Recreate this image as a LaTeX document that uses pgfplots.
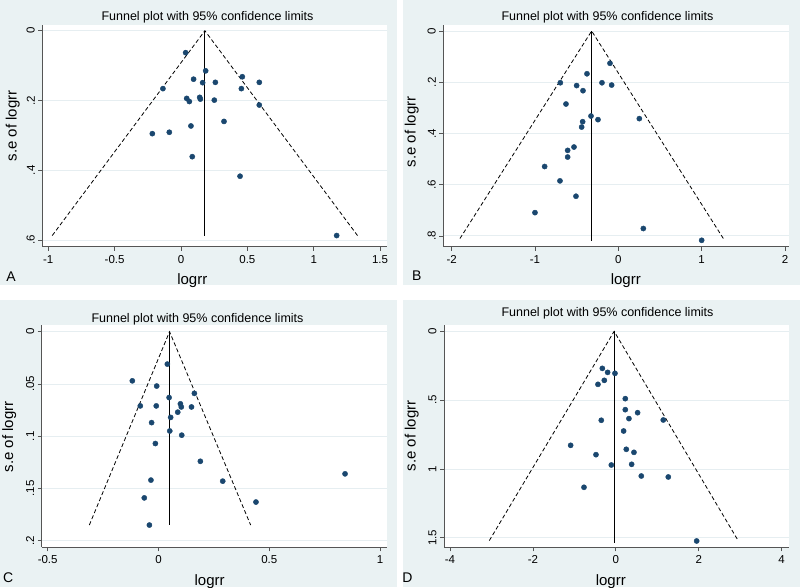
\documentclass[border=0pt]{standalone}
\usepackage{fontspec}
\setmainfont{Liberation Sans}
\usepackage{pgfplots}
\pgfplotsset{compat=1.18}
\definecolor{bgc}{HTML}{EAF2F3}
\definecolor{gridc}{HTML}{E6EEF1}
\definecolor{dotc}{HTML}{1A476F}
\definecolor{axc}{HTML}{555555}

\pgfplotsset{funnel/.style={
  scale only axis,
  anchor=south west,
  y dir=reverse,
  axis x line*=bottom, axis y line*=left,
  axis line style={line width=0.7pt, axc},
  tick align=outside,
  major tick length=4pt,
  every tick/.style={axc, line width=0.7pt},
  ymajorgrids,
  grid style={gridc, line width=0.9pt},
  axis background/.style={fill=white},
  xticklabel style={font=\fontsize{11.5}{13}\selectfont, anchor=north, yshift=-1pt},
  yticklabel style={font=\fontsize{11.5}{13}\selectfont, rotate=90, anchor=south},
  label style={font=\fontsize{15}{17}\selectfont},
  xlabel={logrr}, ylabel={s.e of logrr},
  clip=false,
},
dots/.style={only marks, mark=*, mark size=2.6pt, mark options={fill=dotc, draw=dotc}},
dashl/.style={no marks, black, line width=0.8pt, dash pattern=on 4pt off 2.5pt},
vline/.style={no marks, black, line width=0.8pt},
}

\begin{document}
\begin{tikzpicture}
\path[use as bounding box, fill=white] (0pt,-587pt) rectangle (800pt,0pt);
\fill[bgc] (0pt,0pt) rectangle (397pt,-285pt);
\fill[bgc] (403pt,0pt) rectangle (800pt,-285pt);
\fill[bgc] (0pt,-300pt) rectangle (397pt,-587pt);
\fill[bgc] (403pt,-300pt) rectangle (800pt,-587pt);

% Panel A
\begin{axis}[funnel,
  at={(42.3pt,-246.7pt)}, width=344.4pt, height=221.7pt,
  xmin=-1.045, xmax=1.550, ymin=-0.0163, ymax=0.619,
  xtick={-1,-0.5,0,0.5,1,1.5}, xticklabels={-1,-0.5,0,0.5,1,1.5},
  ytick={0,0.2,0.4,0.6}, yticklabels={0,.2,.4,.6},
  xlabel style={at={(axis cs:0.085,0.619)}, anchor=center, yshift=-34pt},
  ylabel style={at={(axis cs:-1.268,0.273)}, anchor=center},
]
\addplot[dashl] coordinates {(-0.97,0.587) (0.18,0) (1.33,0.587)};
\addplot[vline] coordinates {(0.18,0) (0.18,0.587)};
\addplot[dots] coordinates {
(0.035,0.063) (0.186,0.115) (0.095,0.139) (0.163,0.149) (0.259,0.148)
(0.462,0.132) (0.590,0.148) (-0.136,0.166) (0.455,0.166) (0.043,0.194)
(0.063,0.203) (0.141,0.191) (0.146,0.196) (0.251,0.199) (0.590,0.213)
(0.324,0.260) (0.075,0.273) (-0.216,0.295) (-0.088,0.291) (0.085,0.361)
(0.445,0.417) (1.173,0.587)};
\end{axis}

% Panel B
\begin{axis}[funnel,
  at={(443.3pt,-246.7pt)}, width=345.7pt, height=221.7pt,
  xmin=-2.1, xmax=2.048, ymin=-0.0234, ymax=0.842,
  xtick={-2,-1,0,1,2}, xticklabels={-2,-1,0,1,2},
  ytick={0,0.2,0.4,0.6,0.8}, yticklabels={0,.2,.4,.6,.8},
  xlabel style={at={(axis cs:0.09,0.842)}, anchor=center, yshift=-34pt},
  ylabel style={at={(axis cs:-2.479,0.394)}, anchor=center},
]
\addplot[dashl] coordinates {(-1.9,0.81) (-0.32,0) (1.26,0.81)};
\addplot[vline] coordinates {(-0.32,0) (-0.32,0.818)};
\addplot[dots] coordinates {
(-0.10,0.126) (-0.376,0.167) (-0.696,0.202) (-0.50,0.213) (-0.196,0.202)
(-0.08,0.211) (-0.424,0.233) (-0.628,0.285) (-0.328,0.332) (-0.244,0.346)
(0.252,0.342) (-0.428,0.354) (-0.44,0.375) (-0.532,0.453) (-0.608,0.466)
(-0.608,0.492) (-0.884,0.529) (-0.70,0.585) (-0.508,0.645) (-1.0,0.709)
(0.30,0.771) (1.0,0.817)};
\end{axis}

% Panel C
\begin{axis}[funnel,
  at={(41.7pt,-547.3pt)}, width=345pt, height=222.3pt,
  xmin=-0.527, xmax=1.030, ymin=-0.0064, ymax=0.2063,
  xtick={-0.5,0,0.5,1}, xticklabels={-0.5,0,0.5,1},
  ytick={0,0.05,0.1,0.15,0.2}, yticklabels={0,.05,.1,.15,.2},
  xlabel style={at={(axis cs:0.231,0.2063)}, anchor=center, yshift=-34pt},
  ylabel style={at={(axis cs:-0.673,0.1008)}, anchor=center},
]
\addplot[dashl] coordinates {(-0.312,0.185) (0.05,0) (0.416,0.185)};
\addplot[vline] coordinates {(0.05,0) (0.05,0.185)};
\addplot[dots] coordinates {
(0.040,0.031) (-0.118,0.047) (-0.008,0.052) (0.162,0.059) (0.048,0.063)
(-0.082,0.071) (-0.010,0.071) (0.099,0.069) (0.103,0.072) (0.149,0.072)
(0.087,0.077) (0.055,0.082) (-0.031,0.087) (0.051,0.095) (0.105,0.099)
(-0.014,0.107) (0.189,0.124) (0.842,0.136) (-0.034,0.142) (0.290,0.143)
(-0.064,0.159) (0.440,0.163) (-0.041,0.185)};
\end{axis}

% Panel D
\begin{axis}[funnel,
  at={(444pt,-547.3pt)}, width=345pt, height=222.3pt,
  xmin=-4.143, xmax=4.177, ymin=-0.046, ymax=1.569,
  xtick={-4,-2,0,2,4}, xticklabels={-4,-2,0,2,4},
  ytick={0,0.5,1,1.5}, yticklabels={0,.5,1,1.5},
  xlabel style={at={(axis cs:-0.12,1.569)}, anchor=center, yshift=-34pt},
  ylabel style={at={(axis cs:-4.922,0.76)}, anchor=center},
]
\addplot[dashl] coordinates {(-3.05,1.52) (-0.04,0) (2.95,1.52)};
\addplot[vline] coordinates {(-0.04,0) (-0.04,1.54)};
\addplot[dots] coordinates {
(-0.325,0.269) (-0.197,0.298) (-0.02,0.305) (-0.277,0.356) (-0.43,0.385)
(0.229,0.489) (0.229,0.569) (0.526,0.591) (0.317,0.634) (1.145,0.644)
(-0.35,0.646) (0.189,0.724) (-1.089,0.828) (0.253,0.857) (0.438,0.879)
(-0.478,0.896) (-0.108,0.971) (0.382,0.966) (0.615,1.051) (1.266,1.058)
(-0.767,1.133) (1.95,1.523)};
\end{axis}

% titles and panel letters
\begin{scope}[every node/.style={font=\fontsize{12.5}{14}\selectfont, inner sep=0pt}]
\node at (207.5pt,-17pt) {Funnel plot with 95\% confidence limits};
\node at (607.5pt,-17pt) {Funnel plot with 95\% confidence limits};
\node at (197.5pt,-319pt) {Funnel plot with 95\% confidence limits};
\node at (607.5pt,-313pt) {Funnel plot with 95\% confidence limits};
\end{scope}
\begin{scope}[every node/.style={font=\fontsize{14}{16}\selectfont, inner sep=0pt}]
\node at (11pt,-277pt) {A};
\node at (416.7pt,-276pt) {B};
\node at (8.3pt,-577.3pt) {C};
\node at (407.3pt,-577.3pt) {D};
\end{scope}
\end{tikzpicture}
\end{document}
